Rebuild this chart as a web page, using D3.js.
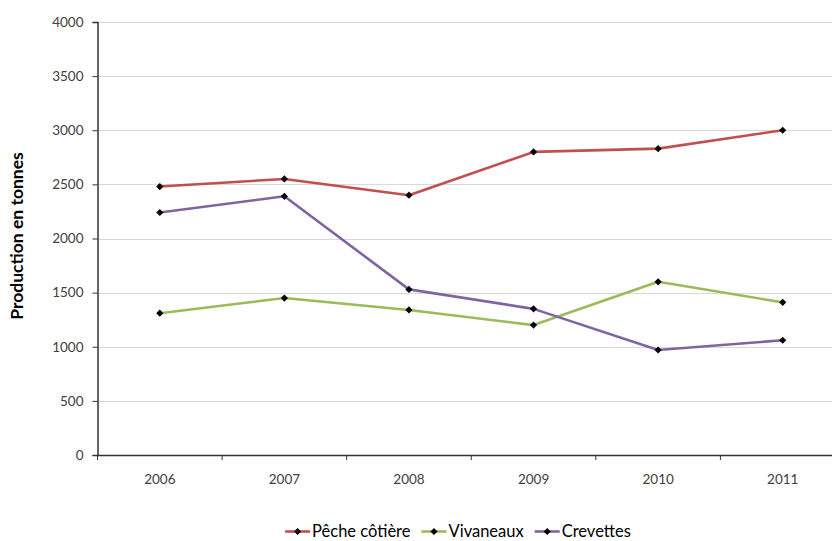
<!DOCTYPE html>
<html><head><meta charset="utf-8">
<script src="https://cdn.jsdelivr.net/npm/d3@7"></script>
<style>body{margin:0;background:#fff}svg{display:block}</style>
</head><body>
<script>
const years = ["2006","2007","2008","2009","2010","2011"];
const pecheCotiere = [2480, 2550, 2400, 2800, 2830, 3000];
const vivaneaux = [1310, 1450, 1340, 1200, 1600, 1410];
const crevettes = [2240, 2390, 1530, 1350, 970, 1060];
const yTicks = [0, 500, 1000, 1500, 2000, 2500, 3000, 3500, 4000];
const seriesNames = ["Pêche côtière", "Vivaneaux", "Crevettes"];
const seriesColors = ["#C0504D", "#9BBB59", "#8064A2"];
const seriesData = [pecheCotiere, vivaneaux, crevettes];

(function () {
const W = 832, H = 541;
const svg = d3.select("body").append("svg").attr("width", W).attr("height", H);
const mLeft = 97.5, mRight = 845, mTop = 22, mBottom = 455;
const font = "Lato, 'Open Sans', sans-serif";

const x = d3.scaleBand().domain(years).range([mLeft, mRight]);
const y = d3.scaleLinear().domain([0, 4000]).range([mBottom, mTop]);

// gridlines
svg.append("g").selectAll("line").data(yTicks.filter(d => d > 0)).join("line")
  .attr("x1", mLeft).attr("x2", mRight)
  .attr("y1", d => Math.round(y(d)) + 0.5).attr("y2", d => Math.round(y(d)) + 0.5)
  .attr("stroke", "#d9d9d9").attr("stroke-width", 1.2);

// y axis
const yAxis = svg.append("g").attr("transform", `translate(${mLeft},0)`)
  .call(d3.axisLeft(y).tickValues(yTicks).tickFormat(d3.format("d")).tickSize(5).tickPadding(9));
yAxis.select(".domain").attr("stroke", "#333").attr("stroke-width", 1.5);
yAxis.selectAll(".tick line").attr("stroke", "#333");
yAxis.selectAll("text").attr("font-family", font).attr("font-size", 13.5).attr("fill", "#404040");

// x axis
const xAxis = svg.append("g").attr("transform", `translate(0,${mBottom})`)
  .call(d3.axisBottom(x).tickSize(0).tickPadding(19));
xAxis.select(".domain").attr("stroke", "#333").attr("stroke-width", 1.5);
xAxis.selectAll("text").attr("font-family", font).attr("font-size", 13.5).attr("fill", "#404040");
// band boundary ticks
svg.append("g").selectAll("line").data(years.map((d, i) => i)).join("line")
  .attr("x1", i => x(years[i])).attr("x2", i => x(years[i]))
  .attr("y1", mBottom).attr("y2", mBottom + 5)
  .attr("stroke", "#333");

// lines
const line = d3.line().x((d, i) => x(years[i]) + x.bandwidth() / 2).y(d => y(d));
const r = 3.6;
const diamond = `M0,${-r}L${r},0L0,${r}L${-r},0Z`;
seriesData.forEach((s, k) => {
  svg.append("path").datum(s).attr("d", line).attr("fill", "none")
    .attr("stroke", seriesColors[k]).attr("stroke-width", 2.6).attr("stroke-linejoin", "round");
  svg.append("g").selectAll("path").data(s).join("path")
    .attr("d", diamond)
    .attr("transform", (d, i) => `translate(${x(years[i]) + x.bandwidth() / 2},${y(d)})`)
    .attr("fill", "#000");
});

// y label
svg.append("text").attr("transform", "translate(23,236) rotate(-90)")
  .attr("text-anchor", "middle").attr("font-family", font).attr("font-weight", "bold")
  .attr("font-size", 17.5).attr("fill", "#000").text("Production en tonnes");

// legend
const legG = svg.append("g");
let cx = 0;
seriesNames.forEach((n, k) => {
  const g = legG.append("g").attr("transform", `translate(${cx},0)`);
  g.append("line").attr("x1", 0).attr("x2", 25).attr("y1", 0).attr("y2", 0)
    .attr("stroke", seriesColors[k]).attr("stroke-width", 2.6);
  g.append("path").attr("d", diamond).attr("transform", "translate(12.5,0)").attr("fill", "#000");
  const t = g.append("text").attr("x", 27).attr("y", 5.8).attr("font-family", font)
    .attr("font-size", 16.5).attr("fill", "#000").text(n);
  cx += 27 + t.node().getComputedTextLength() + 11;
});
const legW = cx - 11;
legG.attr("transform", `translate(${458 - legW / 2},531.5)`);
})();
</script>
</body></html>
